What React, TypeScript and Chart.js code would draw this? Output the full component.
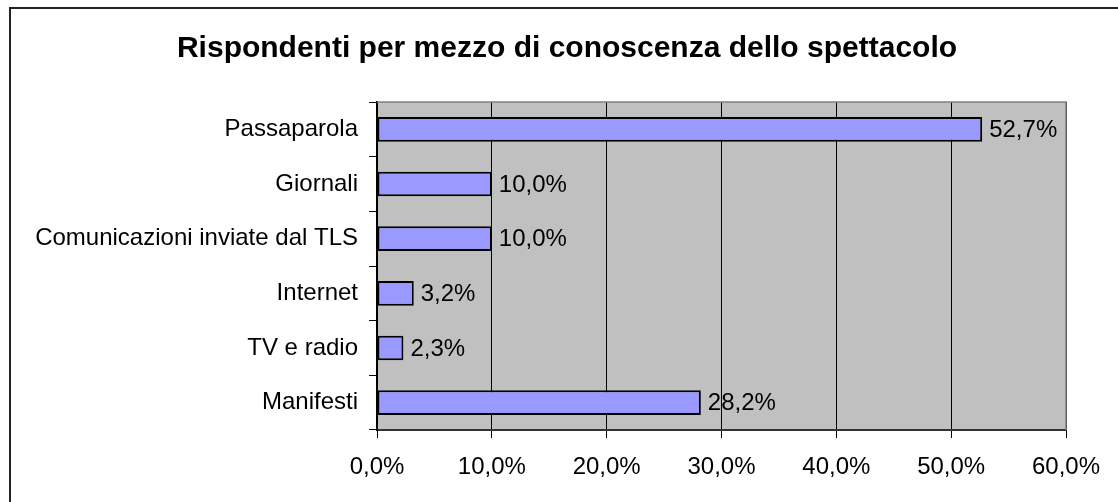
import React, { useEffect, useRef } from "react";
import { Chart, registerables } from "chart.js";

Chart.register(...registerables);

const TITLE = "Rispondenti per mezzo di conoscenza dello spettacolo";
const categories = [
  "Passaparola",
  "Giornali",
  "Comunicazioni inviate dal TLS",
  "Internet",
  "TV e radio",
  "Manifesti",
];
const values = [52.7, 10.0, 10.0, 3.2, 2.3, 28.2];
const xMin = 0;
const xMax = 60;
const xStep = 10;

const FONT = "'Liberation Sans', Arial, Helvetica, sans-serif";
const fmt = (v: number) => v.toFixed(1).replace(".", ",") + "%";

const decorPlugin = {
  id: "decor",
  beforeDraw(chart: any) {
    const { ctx, chartArea: a } = chart;
    ctx.save();
    ctx.fillStyle = "#ffffff";
    ctx.fillRect(0, 0, chart.width, chart.height);
    // outer frame
    ctx.strokeStyle = "#222222";
    ctx.lineWidth = 2;
    ctx.beginPath();
    ctx.moveTo(10, chart.height + 5);
    ctx.lineTo(10, 8);
    ctx.lineTo(chart.width + 5, 8);
    ctx.stroke();
    // plot background
    ctx.fillStyle = "#C0C0C0";
    ctx.fillRect(a.left, a.top, a.right - a.left, a.bottom - a.top);
    ctx.restore();
  },
  afterDatasetsDraw(chart: any) {
    const { ctx, chartArea: a } = chart;
    ctx.save();
    // plot border top/right
    ctx.strokeStyle = "#808080";
    ctx.lineWidth = 1.5;
    ctx.beginPath();
    ctx.moveTo(a.left, a.top);
    ctx.lineTo(a.right, a.top);
    ctx.lineTo(a.right, a.bottom);
    ctx.stroke();
    // value labels
    const meta = chart.getDatasetMeta(0);
    ctx.fillStyle = "#000000";
    ctx.font = `24px ${FONT}`;
    ctx.textAlign = "left";
    ctx.textBaseline = "middle";
    meta.data.forEach((bar: any, i: number) => {
      ctx.fillText(fmt(values[i]), bar.x + 7, bar.y + 1);
    });
    // title
    ctx.font = `bold 30px ${FONT}`;
    ctx.textAlign = "center";
    ctx.textBaseline = "alphabetic";
    ctx.fillText(TITLE, 567, 57);
    ctx.restore();
  },
};

export default function App() {
  const ref = useRef<HTMLCanvasElement | null>(null);
  useEffect(() => {
    if (!ref.current) return;
    const chart = new Chart(ref.current, {
      type: "bar",
      data: {
        labels: categories,
        datasets: [
          {
            data: values,
            backgroundColor: "#9999FF",
            borderColor: "#000000",
            borderWidth: 2,
            borderSkipped: false,
            barPercentage: 0.45,
            categoryPercentage: 1,
          },
        ],
      },
      options: {
        indexAxis: "y",
        animation: false,
        responsive: false,
        maintainAspectRatio: false,
        layout: { padding: { top: 102, right: 52, left: 0, bottom: 0 } },
        plugins: {
          legend: { display: false },
          title: { display: false },
          tooltip: { enabled: false },
        },
        scales: {
          x: {
            type: "linear",
            min: xMin,
            max: xMax,
            ticks: {
              stepSize: xStep,
              color: "#000000",
              font: { family: FONT, size: 24 },
              padding: 15,
              callback: (v: any) => fmt(Number(v)),
            },
            grid: {
              color: "#000000",
              lineWidth: 1,
              tickLength: 8,
              drawOnChartArea: true,
            },
            border: { display: true, color: "#333333", width: 2 },
            afterFit: (s: any) => {
              s.height = 72;
            },
          },
          y: {
            ticks: {
              color: "#000000",
              font: { family: FONT, size: 24 },
              padding: 11,
            },
            grid: {
              drawOnChartArea: false,
              drawTicks: true,
              tickLength: 8,
              color: "#000000",
              offset: true,
            },
            border: { display: true, color: "#000000", width: 2 },
            afterFit: (s: any) => {
              s.width = 377;
            },
          },
        },
      },
      plugins: [decorPlugin],
    });
    return () => chart.destroy();
  }, []);
  return (
    <div style={{ position: "fixed", left: 0, top: 0, width: 1118, height: 502, background: "#fff" }}>
      <canvas ref={ref} width={1118} height={502} style={{ display: "block", width: 1118, height: 502 }} />
    </div>
  );
}
